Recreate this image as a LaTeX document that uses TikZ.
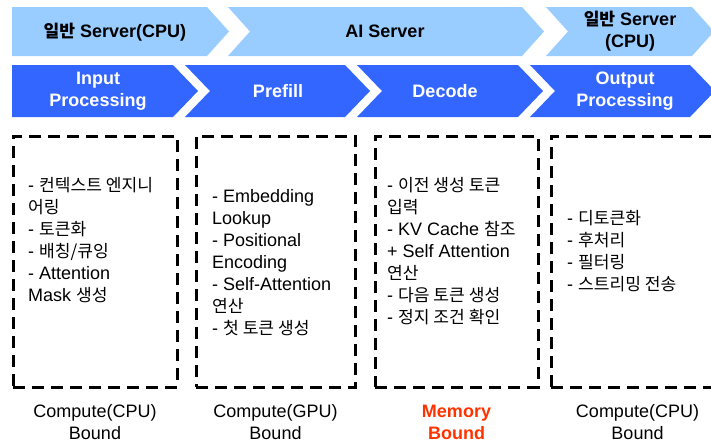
\documentclass[tikz,border=0pt]{standalone}
\usepackage{fontspec}
\setmainfont{Liberation Sans}
\newfontfamily\krfont[Scale=0.95]{Noto Sans CJK KR}
\newcommand{\kor}[1]{{\krfont #1}}
\definecolor{serverblue}{HTML}{99CCFF}
\definecolor{stageblue}{HTML}{3366FF}
\definecolor{memred}{HTML}{FF3300}

\begin{document}
\begin{tikzpicture}[x=1pt,y=-1pt,
    every node/.style={font=\fontsize{18}{22}\selectfont},
    dashbox/.style={draw,dash pattern=on 12pt off 7pt,line width=3pt,
      minimum height=251pt,inner sep=0pt}]

  \path[use as bounding box,clip] (0,0) rectangle (711,445);

  % server row
  \begin{scope}[fill=serverblue]
    \fill (12,7) -- (207,7) -- (229,31.5) -- (207,56) -- (12,56) -- cycle;
    \fill (228,7) -- (522,7) -- (544,31.5) -- (522,56) -- (228,56) -- (250,31.5) -- cycle;
    \fill (546,7) -- (692,7) -- (714,31.5) -- (692,56) -- (546,56) -- (568,31.5) -- cycle;
  \end{scope}

  \begin{scope}[every node/.style={font=\fontsize{18}{22}\selectfont\bfseries,align=center}]
    \node (gen1) at (115,32) {\kor{일반} Server(CPU)};
    \node (ai)   at (385,31) {AI Server};
    \node (gen2) at (630,31) {\kor{일반} Server\\(CPU)};
  \end{scope}

  % stage row
  \begin{scope}[fill=stageblue]
    \fill (12,65) -- (173,65) -- (198,91) -- (173,117) -- (12,117) -- cycle;
    \fill (185,65) -- (345,65) -- (370,91) -- (345,117) -- (185,117) -- (210,91) -- cycle;
    \fill (357,65) -- (518,65) -- (543,91) -- (518,117) -- (357,117) -- (382,91) -- cycle;
    \fill (530,65) -- (690,65) -- (715,91) -- (690,117) -- (530,117) -- (555,91) -- cycle;
  \end{scope}

  \begin{scope}[every node/.style={font=\fontsize{18}{22}\selectfont\bfseries,
      align=center,text=white}]
    \node (input)   at (98,91)  {Input\\Processing};
    \node (prefill) at (278,91) {Prefill};
    \node (decode)  at (445,91) {Decode};
    \node (output)  at (625,91) {Output\\Processing};
  \end{scope}

  % task boxes
  \node[dashbox,minimum width=164pt] (box1) at (95,261.5)    {};
  \node[dashbox,minimum width=159pt] (box2) at (275.5,261.5) {};
  \node[dashbox,minimum width=163pt] (box3) at (456.5,261.5) {};
  \node[dashbox,minimum width=173pt] (box4) at (637.5,261.5) {};

  % anchored on the baseline of the last line
  \begin{scope}[every node/.style={font=\fontsize{18}{22}\selectfont,
      align=left,anchor=base west,inner sep=0pt}]
    \node (tasks1) at (28,301)  {- \kor{컨텍스트 엔지니}\\\kor{어링}\\- \kor{토큰화}\\- \kor{배칭/큐잉}\\- Attention\\Mask \kor{생성}};
    \node (tasks2) at (212,334) {- Embedding\\Lookup\\- Positional\\Encoding\\- Self-Attention\\\kor{연산}\\- \kor{첫 토큰 생성}};
    \node (tasks3) at (387,323) {- \kor{이전 생성 토큰}\\\kor{입력}\\- KV Cache \kor{참조}\\+ Self Attention\\\kor{연산}\\- \kor{다음 토큰 생성}\\- \kor{정지 조건 확인}};
    \node (tasks4) at (567,290) {- \kor{디토큰화}\\- \kor{후처리}\\- \kor{필터링}\\- \kor{스트리밍 전송}};
  \end{scope}

  % bound labels
  \begin{scope}[every node/.style={font=\fontsize{18}{22}\selectfont,
      align=center,anchor=base}]
    \node (bound1) at (95,439)    {Compute(CPU)\\Bound};
    \node (bound2) at (275.5,439) {Compute(GPU)\\Bound};
    \node[font=\fontsize{18}{22}\selectfont\bfseries,text=memred] (bound3) at (456.5,439) {Memory\\Bound};
    \node (bound4) at (637.5,439) {Compute(CPU)\\Bound};
  \end{scope}

\end{tikzpicture}
\end{document}
